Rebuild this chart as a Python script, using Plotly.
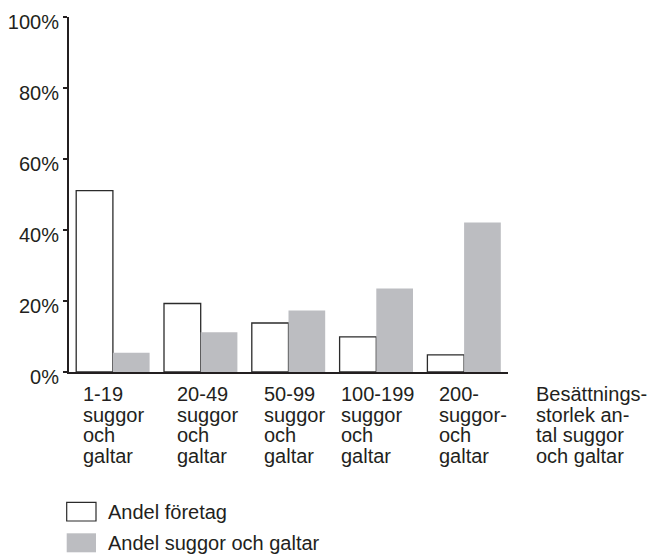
import plotly.graph_objects as go

# ---- data ----
categories = ["1-19<br>suggor<br>och<br>galtar",
              "20-49<br>suggor<br>och<br>galtar",
              "50-99<br>suggor<br>och<br>galtar",
              "100-199<br>suggor<br>och<br>galtar",
              "200-<br>suggor-<br>och<br>galtar"]
axis_title = "Besättnings-<br>storlek an-<br>tal suggor<br>och galtar"
andel_foretag = [51.1, 19.3, 13.8, 9.9, 4.8]
andel_suggor = [5.4, 11.2, 17.3, 23.5, 42.1]
series_names = ["Andel företag", "Andel suggor och galtar"]
y_ticks = [0, 20, 40, 60, 80, 100]
y_ticktext = ["0%", "20%", "40%", "60%", "80%", "100%"]

# ---- style ----
FONT = "Liberation Sans, Arial, sans-serif"
TXT = "#231f20"
GRAY = "#bcbdc1"
OFF = 8  # page body margin offset
W, H = 658 - OFF, 554 - OFF
# plot area in window pixels
PX_L, PX_R, PX_T, PX_B = 69, 508, 17, 372
L, T = PX_L - OFF, PX_T - OFF
R, B = 658 - PX_R, 554 - PX_B
FS = 20

x_idx = list(range(len(categories)))

fig = go.Figure()
fig.add_trace(go.Bar(x=x_idx, y=andel_foretag, name=series_names[0],
                     marker=dict(color="white", line=dict(color="#2b2b2b", width=1.3)),
                     showlegend=False))
fig.add_trace(go.Bar(x=x_idx, y=andel_suggor, name=series_names[1],
                     marker=dict(color=GRAY, line=dict(width=0)),
                     showlegend=False))

def px_ann(text, px, py, **kw):
    # px, py: window pixel coords
    return dict(text=text, xref="paper", yref="paper", x=0, y=0,
                xshift=px - PX_L, yshift=PX_B - py,
                xanchor="left", yanchor="middle", showarrow=False,
                font=dict(family=FONT, size=FS, color=TXT), **kw)

annotations = []
label_left = [81.7, 176, 263.3, 340, 438.3, 535]
line_pitch = 20.7
first_center = 393.8
for i, lab in enumerate(categories + [axis_title]):
    for j, line in enumerate(lab.split("<br>")):
        annotations.append(px_ann(line, label_left[i] - 1, first_center + j * line_pitch))

# legend (manual keys)
shapes = []
def px_rect(x0, y0, x1, y1, **kw):
    pw, ph = PX_R - PX_L, PX_B - PX_T
    return dict(type="rect", xref="paper", yref="paper",
                x0=(x0 - PX_L) / pw, x1=(x1 - PX_L) / pw,
                y0=(PX_B - y0) / ph, y1=(PX_B - y1) / ph, **kw)

shapes.append(px_rect(66.7, 502.3, 96, 521, fillcolor="white",
                      line=dict(color="#2b2b2b", width=1.2)))
shapes.append(px_rect(66.7, 533.3, 96, 552.3, fillcolor=GRAY, line=dict(width=0)))
annotations.append(px_ann(series_names[0], 105.7, 512))
annotations.append(px_ann(series_names[1], 105.7, 543))

fig.update_layout(
    width=W, height=H, autosize=False,
    margin=dict(l=L, r=R, t=T, b=B, pad=0),
    paper_bgcolor="white", plot_bgcolor="white",
    font=dict(family=FONT, size=FS, color=TXT),
    barmode="group", bargap=0.164, bargroupgap=0,
    showlegend=False,
    annotations=annotations, shapes=shapes,
    xaxis=dict(range=[-0.5, 4.5], showticklabels=False, ticks="",
               showgrid=False, zeroline=False, showline=True, automargin=False,
               linecolor=TXT, linewidth=2, fixedrange=True),
    yaxis=dict(range=[0, 100], tickvals=y_ticks, ticktext=y_ticktext,
               ticks="outside", ticklen=4, tickwidth=1.5, tickcolor=TXT,
               showgrid=False, zeroline=False, showline=True, automargin=False,
               linecolor=TXT, linewidth=2, ticklabelshift=5,
               tickfont=dict(family=FONT, size=FS, color=TXT), fixedrange=True),
)

fig.write_html("out.html")
